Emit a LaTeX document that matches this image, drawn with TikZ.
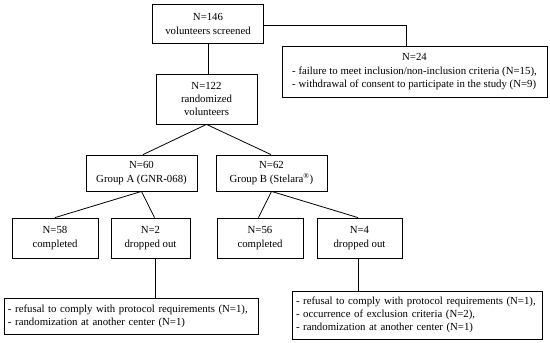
\documentclass[tikz,border=0pt]{standalone}
\usepackage{fontspec}
\setmainfont{Liberation Serif}
\usetikzlibrary{calc}
\tikzset{
  box/.style={draw=black, line width=0.8pt, inner sep=0pt, align=center,
    font=\fontsize{10.8}{13.3}\selectfont},
  conn/.style={draw=black, line width=0.8pt}
}
\begin{document}
\begin{tikzpicture}[x=1pt,y=-1pt]
\useasboundingbox (0,0) rectangle (550,343);
\node[box, minimum width=110.6, minimum height=39] (b146) at (208,24) {N=146\\volunteers screened};
\node[box, minimum width=265, minimum height=51] (b24) at (414.5,71.5)
  {\begin{tabular}{@{}l@{}}\multicolumn{1}{@{}c@{}}{N=24}\\
   - failure to meet inclusion/non-inclusion criteria (N=15),\\
   - withdrawal of consent to participate in the study (N=9)\end{tabular}};
\node[box, minimum width=101, minimum height=50] (b122) at (206.5,99) {N=122\\randomized\\volunteers};
\node[box, minimum width=111, minimum height=36] (gA) at (141.5,173) {N=60\\Group A (GNR-068)};
\node[box, minimum width=111, minimum height=36] (gB) at (271.5,173) {N=62\\Group B (Stelara\textsuperscript{®})};
\node[box, minimum width=86, minimum height=40] (n58) at (55,238) {N=58\\completed};
\node[box, minimum width=79, minimum height=40] (n2) at (150.5,238) {N=2\\dropped out};
\node[box, minimum width=86, minimum height=40] (n56) at (260,238) {N=56\\completed};
\node[box, minimum width=85, minimum height=40] (n4) at (359.5,238) {N=4\\dropped out};
\node[box, minimum width=254, minimum height=36, text width=246, align=left] (bl) at (131,316)
  {- refusal to comply with protocol requirements (N=1),\\
   - randomization at another center (N=1)};
\node[box, minimum width=250, minimum height=48, text width=242, align=left] (br) at (417,315)
  {- refusal to comply with protocol requirements (N=1),\\
   - occurrence of exclusion criteria (N=2),\\
   - randomization at another center (N=1)};
\draw[conn] ([yshift=-1]b146.east) -| ([xshift=-8.5]b24.north);
\draw[conn] (b146.south) -- (b146.south |- b122.north);
\draw[conn] (b122.south) -- ([xshift=1.5]gA.north);
\draw[conn] (b122.south) -- ([xshift=-0.5]gB.north);
\draw[conn] (gA.south) -- (n58.north);
\draw[conn] (gA.south) -- ([xshift=4]n2.north);
\draw[conn] (gB.south) -- ([xshift=-1.5]n56.north);
\draw[conn] (gB.south) -- ([xshift=-1.5]n4.north);
\draw[conn] ([xshift=5]n2.south) -- ([xshift=5]n2.south |- bl.north);
\draw[conn] ([xshift=-1.5]n4.south) -- ([xshift=-1.5]n4.south |- br.north);
\end{tikzpicture}
\end{document}
